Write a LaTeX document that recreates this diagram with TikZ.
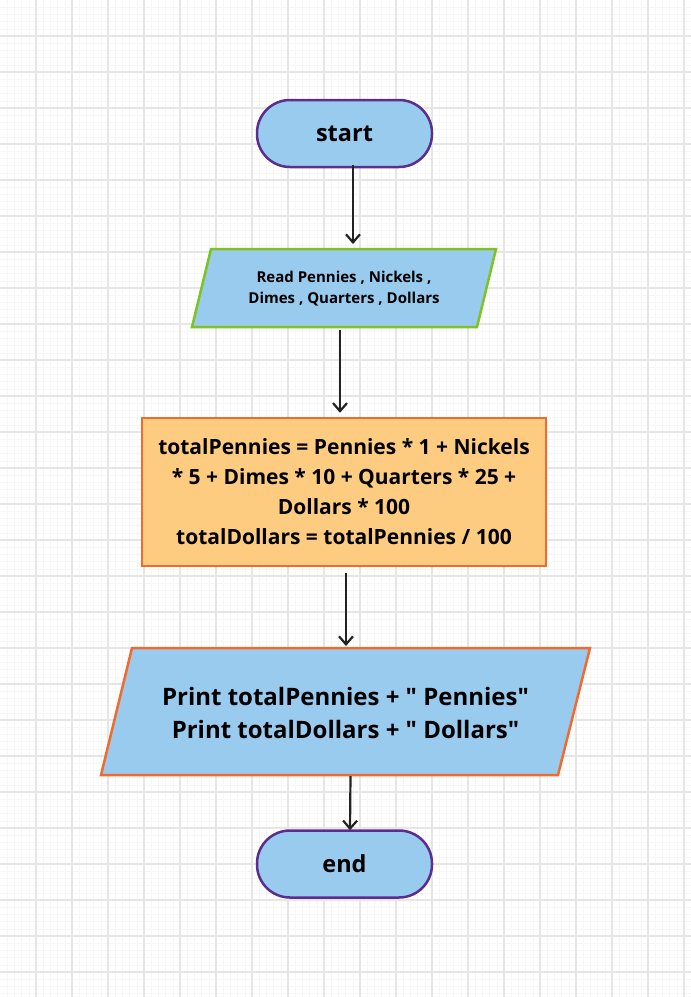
\documentclass[tikz,border=0pt]{standalone}
\usepackage{fontspec}
\setmainfont{Open Sans}[Ligatures=TeXOff]
\usetikzlibrary{arrows.meta}
\definecolor{bluefill}{HTML}{99CBEF}
\definecolor{orangefill}{HTML}{FDCC80}
\definecolor{orangeline}{HTML}{F26A2C}
\definecolor{greenline}{HTML}{7EC420}
\definecolor{purpleline}{HTML}{5A2D8E}
\definecolor{gridmajor}{HTML}{E6E6E6}
\definecolor{gridminor}{HTML}{F6F6F6}
\definecolor{arrowcol}{HTML}{222222}
\begin{document}
\begin{tikzpicture}[x=1pt,y=-1pt,
  term/.style={rectangle, rounded corners=33pt, minimum width=175pt, minimum height=67pt,
    fill=bluefill, draw=purpleline, line width=2.5pt, font=\fontsize{23.5}{26}\selectfont\bfseries},
  iobox/.style={rectangle, align=center, inner sep=0pt, outer sep=0pt},
  proc/.style={rectangle, fill=orangefill, draw=orangeline, line width=2.5pt,
    minimum width=404pt, minimum height=148pt, align=center, inner sep=0pt,
    font=\fontsize{21}{30}\selectfont\bfseries},
  arr/.style={draw=arrowcol, line width=2.2pt, -{Straight Barb[length=8pt,width=14pt]}},
  major/.style={draw=gridmajor, line width=1.3pt},
  minor/.style={draw=gridminor, line width=0.4pt}]
\useasboundingbox (0,0) rectangle (691,997);
\fill[white] (0,0) rectangle (691,997);
\foreach \i in {1,...,96} {\draw[minor] (\i*7.2,0) -- (\i*7.2,997);}
\foreach \j in {1,...,138} {\draw[minor] (0,\j*7.2) -- (691,\j*7.2);}
\foreach \i in {1,...,19} {\draw[major] (\i*36,0) -- (\i*36,997);}
\foreach \j in {1,...,27} {\draw[major] (0,\j*36) -- (691,\j*36);}

\node[term] (start) at (344.5,133.5) {start};

\node[iobox, minimum width=304pt, minimum height=78pt] (read) at (344,288) {};
\filldraw[fill=bluefill, draw=greenline, line width=2.5pt, line join=miter]
  (read.south west) -- ([xshift=19pt]read.north west) -- (read.north east)
  -- ([xshift=-19pt]read.south east) -- cycle;
\node[align=center, font=\fontsize{15}{21}\selectfont\bfseries] (readtxt) at ([yshift=-1pt]read.center)
  {Read Pennies , Nickels ,\\ Dimes , Quarters , Dollars};

\node[proc] (calc) at (344,492)
  {totalPennies = Pennies * 1 + Nickels\\ * 5 + Dimes * 10 + Quarters * 25 +\\ Dollars * 100\\ totalDollars = totalPennies / 100};

\node[iobox, minimum width=489pt, minimum height=127pt] (print) at (345.5,711.5) {};
\filldraw[fill=bluefill, draw=orangeline, line width=2.5pt, line join=miter]
  (print.south west) -- ([xshift=31pt]print.north west) -- (print.north east)
  -- ([xshift=-32pt]print.south east) -- cycle;
\node[align=center, font=\fontsize{24}{33}\selectfont\bfseries] (printtxt) at ([yshift=-1pt]print.center)
  {Print totalPennies + " Pennies"\\ Print totalDollars + " Dollars"};

\node[term] (end) at (344.5,864) {end};

\draw[arr] ([xshift=8.5pt,yshift=3pt]start.south) -- ([xshift=9pt,yshift=5pt]read.north);
\draw[arr] ([xshift=-4pt,yshift=-3pt]read.south) -- ([xshift=-4pt,yshift=4pt]calc.north);
\draw[arr] ([xshift=2pt,yshift=-6pt]calc.south) -- ([xshift=0.5pt,yshift=2pt]print.north);
\draw[arr] ([xshift=5pt,yshift=-1pt]print.south) -- ([xshift=5.5pt,yshift=-1pt]end.north);
\end{tikzpicture}
\end{document}
